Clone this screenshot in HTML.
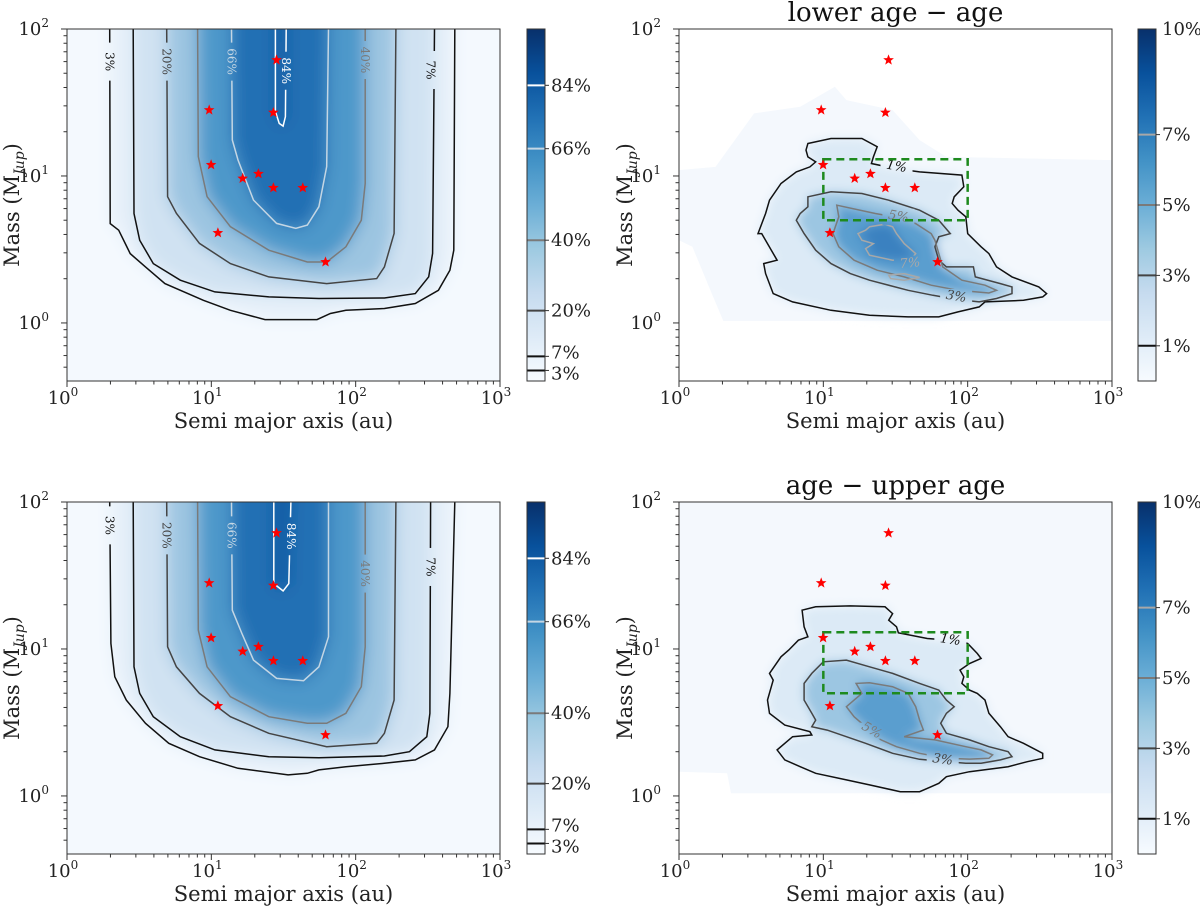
<!DOCTYPE html>
<html><head><meta charset="utf-8">
<style>
html,body{margin:0;padding:0;background:#fff;}
svg{display:block;font-family:"DejaVu Serif","Liberation Serif",serif;}
</style></head>
<body>
<svg id="chart" width="1200" height="909" viewBox="0 0 1200 909" xmlns="http://www.w3.org/2000/svg">
<defs>
<filter id="blurL" x="-0.2" y="-0.2" width="1.4" height="1.4"><feGaussianBlur stdDeviation="8"/></filter>
<filter id="blurR" x="-0.2" y="-0.2" width="1.4" height="1.4"><feGaussianBlur stdDeviation="5"/></filter>
<linearGradient id="blues" x1="0" y1="1" x2="0" y2="0">
<stop offset="0" stop-color="#f7fbff"/><stop offset="0.125" stop-color="#deebf7"/><stop offset="0.25" stop-color="#c6dbef"/><stop offset="0.375" stop-color="#9ecae1"/><stop offset="0.5" stop-color="#6baed6"/><stop offset="0.625" stop-color="#4292c6"/><stop offset="0.75" stop-color="#2171b5"/><stop offset="0.875" stop-color="#08519c"/><stop offset="1" stop-color="#08306b"/>
</linearGradient>
</defs>
</svg>
<script>
// ---- data (log10 semi-major axis [au], log10 mass [MJup]) ----
const starA = [28.3, 9.66, 26.9, 9.96, 16.5, 21.2, 26.9, 43.0, 11.1, 61.8];
const starM = [61.5, 28.1, 27.0, 11.9, 9.62, 10.35, 8.3, 8.3, 4.1, 2.6];
const boxA = [10, 100];
const boxM = [5, 13];
const xTickExp = [0, 1, 2, 3];
const yTickExp = [0, 1, 2];
const leftLevels = [3, 7, 20, 40, 66, 84];
const leftLevelLabels = ["3%", "7%", "20%", "40%", "66%", "84%"];
const rightLevels = [1, 3, 5, 7];
const rightLevelLabels = ["1%", "3%", "5%", "7%"];
const leftMax = 100;
const rightMax = 10;

const TL_C3 = [[0.296,2],[0.299,0.676],[0.358,0.631],[0.438,0.472],[0.544,0.381],[0.678,0.268],[0.945,0.154],[1.132,0.086],[1.372,0.023],[1.732,0.023],[1.825,0.064],[1.932,0.086],[2.199,0.098],[2.413,0.132],[2.573,0.222],[2.653,0.359],[2.680,0.495],[2.687,2]];
const TL_C7 = [[0.459,2],[0.464,0.745],[0.504,0.563],[0.598,0.404],[0.785,0.291],[1.025,0.211],[1.398,0.177],[1.745,0.166],[2.199,0.170],[2.413,0.200],[2.506,0.314],[2.533,0.473],[2.546,2]];
const TL_C20 = [[0.691,2],[0.697,0.859],[0.758,0.746],[0.918,0.541],[1.132,0.404],[1.398,0.313],[1.799,0.268],[2.146,0.302],[2.199,0.381],[2.266,0.609],[2.279,2]];
const TL_C40 = [[0.905,2],[0.910,1.132],[0.971,0.859],[1.132,0.655],[1.398,0.495],[1.665,0.415],[1.799,0.415],[1.932,0.518],[2.039,0.699],[2.066,0.949],[2.066,2]];
const TL_C66 = [[1.140,2],[1.145,1.245],[1.185,1.109],[1.292,0.836],[1.452,0.677],[1.585,0.643],[1.665,0.666],[1.745,0.791],[1.799,1.064],[1.812,2]];
const TL_C84 = [[1.444,2],[1.444,1.44],[1.470,1.358],[1.497,1.339],[1.513,1.403],[1.519,2]];
const TL_LAB = [[0.296,1.778],[0.691,1.778],[2.066,1.789],[1.140,1.778],[1.519,1.716],[2.519,1.721]];

const BL_C3 = [[0.296,2],[0.304,1.037],[0.331,0.811],[0.411,0.652],[0.544,0.494],[0.705,0.358],[0.918,0.267],[1.185,0.188],[1.532,0.143],[1.665,0.154],[1.745,0.177],[1.932,0.199],[2.199,0.222],[2.413,0.245],[2.546,0.313],[2.639,0.471],[2.653,0.698],[2.687,2]];
const BL_C7 = [[0.459,2],[0.464,0.879],[0.504,0.698],[0.598,0.539],[0.785,0.403],[1.025,0.313],[1.398,0.267],[1.745,0.260],[2.199,0.272],[2.372,0.301],[2.493,0.403],[2.514,0.562],[2.519,2]];
const BL_C20 = [[0.691,2],[0.697,1.015],[0.758,0.879],[0.918,0.698],[1.132,0.539],[1.398,0.426],[1.799,0.335],[2.146,0.358],[2.199,0.426],[2.266,0.652],[2.279,2]];
const BL_C40 = [[0.905,2],[0.910,1.128],[0.971,0.879],[1.132,0.675],[1.398,0.539],[1.665,0.494],[1.799,0.494],[1.932,0.562],[2.039,0.743],[2.066,1.015],[2.066,2]];
const BL_C66 = [[1.140,2],[1.145,1.264],[1.212,1.105],[1.292,0.924],[1.452,0.800],[1.639,0.784],[1.745,0.879],[1.812,1.083],[1.812,2]];
const BL_C84 = [[1.433,2],[1.433,1.445],[1.497,1.395],[1.537,1.445],[1.551,2]];
const BL_LAB = [[0.296,1.841],[0.691,1.773],[2.066,1.513],[1.140,1.773],[1.551,1.767],[2.519,1.558]];

const TR_REGION = [[0,1.040],[0.253,1.062],[0.52,1.426],[0.84,1.471],[1.08,1.607],[1.16,1.516],[1.48,1.448],[1.667,1.244],[1.853,1.130],[3,1.108],[3,0.014],[0.307,0.014],[0.227,0.2],[0.093,0.518],[0,0.563]];
const TR_C1 = [[0.893,1.221],[1.053,1.255],[1.267,1.255],[1.373,1.199],[1.347,1.130],[1.333,1.085],[1.5,1.05],[1.667,1.028],[1.96,1.006],[1.973,0.926],[1.907,0.858],[1.893,0.813],[1.933,0.767],[1.987,0.722],[2.0,0.608],[2.093,0.518],[2.147,0.472],[2.2,0.381],[2.307,0.313],[2.493,0.245],[2.547,0.2],[2.52,0.177],[2.387,0.154],[2.12,0.143],[2.08,0.109],[1.933,0.075],[1.8,0.041],[1.587,0.041],[1.32,0.052],[1.053,0.086],[0.787,0.143],[0.653,0.2],[0.6,0.336],[0.587,0.404],[0.68,0.427],[0.573,0.608],[0.547,0.608],[0.6,0.745],[0.627,0.835],[0.707,0.949],[0.813,1.028],[0.907,1.062],[0.947,1.096],[0.893,1.130],[0.88,1.176]];
const TR_C3 = [[1.76,0.188],[1.587,0.222],[1.32,0.291],[1.187,0.336],[1.053,0.404],[0.947,0.495],[0.867,0.608],[0.813,0.699],[0.84,0.745],[0.893,0.790],[0.893,0.858],[1.053,0.892],[1.267,0.881],[1.453,0.835],[1.667,0.767],[1.8,0.699],[1.88,0.608],[1.8,0.586],[1.773,0.518],[1.8,0.427],[1.853,0.381],[2.04,0.381],[2.053,0.313],[2.227,0.268],[2.307,0.245],[2.307,0.2],[2.2,0.166],[2.08,0.143],[1.92,0.16]];
const TR_C5 = [[1.36,0.745],[1.093,0.801],[1.107,0.722],[1.067,0.608],[1.107,0.518],[1.213,0.427],[1.373,0.359],[1.56,0.313],[1.747,0.257],[1.933,0.222],[2.147,0.204],[2.2,0.222],[2.12,0.257],[1.96,0.291],[1.827,0.381],[1.8,0.472],[1.773,0.563],[1.747,0.608],[1.64,0.676],[1.5,0.72]];
const TR_C7 = [[1.32,0.654],[1.427,0.672],[1.48,0.654],[1.507,0.608],[1.56,0.540],[1.64,0.472],[1.613,0.438],[1.55,0.43],[1.48,0.427],[1.32,0.461],[1.293,0.506],[1.347,0.540],[1.267,0.563],[1.24,0.608],[1.293,0.631]];
const TR_C7B = [[1.453,0.325],[1.56,0.336],[1.667,0.309],[1.56,0.291],[1.467,0.302]];
const TR_LAB = [[1.507,1.062],[1.92,0.177],[1.52,0.722],[1.6,0.404]];

const BR_REGION = [[0,2],[3,2],[3,0.018],[0.36,0.018],[0.333,0.154],[0,0.165]];
const BR_C1 = [[2.0,1.037],[2.067,0.969],[2.093,0.935],[2.013,0.901],[1.947,0.856],[1.973,0.811],[1.96,0.766],[2.013,0.720],[2.067,0.698],[2.12,0.652],[2.147,0.562],[2.227,0.471],[2.28,0.403],[2.387,0.358],[2.52,0.290],[2.52,0.256],[2.413,0.233],[2.28,0.199],[2.013,0.165],[1.853,0.131],[1.8,0.086],[1.747,0.063],[1.667,0.029],[1.533,0.029],[1.32,0.075],[1.16,0.109],[0.947,0.154],[0.84,0.199],[0.733,0.245],[0.68,0.313],[0.787,0.403],[0.92,0.415],[0.907,0.437],[0.733,0.482],[0.627,0.562],[0.613,0.652],[0.653,0.788],[0.627,0.834],[0.707,0.947],[0.76,0.992],[0.827,1.060],[0.893,1.083],[0.867,1.151],[0.853,1.264],[0.947,1.287],[1.187,1.293],[1.427,1.287],[1.48,1.241],[1.453,1.196],[1.507,1.151],[1.52,1.110],[1.72,1.071],[1.88,1.06]];
const BR_C3 = [[1.667,0.249],[1.48,0.290],[1.293,0.358],[1.16,0.403],[1.027,0.448],[0.92,0.471],[0.947,0.516],[0.92,0.562],[0.867,0.652],[0.867,0.766],[0.92,0.834],[1.0,0.913],[1.16,0.924],[1.32,0.879],[1.48,0.834],[1.667,0.766],[1.8,0.720],[1.853,0.652],[1.907,0.607],[1.853,0.562],[1.813,0.494],[1.853,0.426],[2.013,0.381],[2.147,0.335],[2.28,0.301],[2.307,0.267],[2.227,0.245],[2.093,0.222],[1.987,0.222],[1.83,0.235]];
const BR_C5 = [[1.293,0.471],[1.213,0.539],[1.16,0.607],[1.213,0.652],[1.267,0.698],[1.227,0.766],[1.32,0.770],[1.48,0.743],[1.587,0.698],[1.64,0.607],[1.667,0.516],[1.693,0.449],[1.56,0.403],[1.667,0.392],[1.773,0.381],[1.987,0.335],[2.093,0.313],[2.173,0.279],[2.147,0.256],[2.013,0.251],[1.853,0.256],[1.667,0.290],[1.507,0.335],[1.4,0.381],[1.34,0.43]];
const BR_C7 = [[1.747,0.290],[1.8,0.279],[1.853,0.286],[1.8,0.297]];
const BR_LAB = [[1.88,1.060],[1.827,0.245],[1.333,0.444]];

// ---- rendering ----
const NS = 'http://www.w3.org/2000/svg';
const svg = document.getElementById('chart');
const W = 433, H = 352, YMIN = -0.395;
function mk(tag, parent) { const e = document.createElementNS(NS, tag); parent.appendChild(e); return e; }
function X(p, la) { return p.x0 + la / 3 * W; }
function Y(p, lm) { return p.y0 + (2 - lm) / (2 - YMIN) * H; }
function d(p, pts, close) { return 'M' + pts.map(q => X(p, q[0]).toFixed(1) + ',' + Y(p, q[1]).toFixed(1)).join('L') + (close ? 'Z' : ''); }

const panels = [
  {id:'tl', x0:67, y0:29, kind:'left', cb:527, title:null, ylabX:19,
   cont:[TL_C3,TL_C7,TL_C20,TL_C40,TL_C66,TL_C84], lab:TL_LAB},
  {id:'tr', x0:679, y0:29, kind:'right', cb:1138, title:'lower age \u2212 age', ylabX:632,
   region:TR_REGION, cont:[TR_C1,TR_C3,TR_C5,TR_C7], extra:[TR_C7B], lab:TR_LAB},
  {id:'bl', x0:67, y0:502, kind:'left', cb:527, title:null, ylabX:19,
   cont:[BL_C3,BL_C7,BL_C20,BL_C40,BL_C66,BL_C84], lab:BL_LAB},
  {id:'br', x0:679, y0:502, kind:'right', cb:1138, title:'age \u2212 upper age', ylabX:632,
   region:BR_REGION, cont:[BR_C1,BR_C3,BR_C5,BR_C7], extra:[], lab:BR_LAB}
];
const leftFill = ['#e6f0f9','#d0e2f2','#9cc5e1','#4d98ca','#2470b4','#0f5aa3'];
const leftLine = ['#111','#111','#444','#7a7a7a','#c4d6e4','#ffffff'];
const rightFill = ['#dceaf6','#9cc6e2','#5a9ecf','#3b81c0'];
const rightLine = ['#111','#444','#7a7a7a','#a8a8a8'];
const rightLabRot = {tr:[10,10,10,-5], br:[8,8,30]};
const rightLabIdx = {tr:[0,1,2,3], br:[0,1,2]};

panels.forEach(p => {
  const defs = svg.querySelector('defs');
  const clip = mk('clipPath', defs); clip.setAttribute('id', 'clip-' + p.id);
  const cr = mk('rect', clip);
  cr.setAttribute('x', p.x0); cr.setAttribute('y', p.y0); cr.setAttribute('width', W); cr.setAttribute('height', H);

  const g = mk('g', svg);
  
  

  const heat = mk('g', g);
  heat.setAttribute('clip-path', 'url(#clip-' + p.id + ')');
  
  
  const isLeft = p.kind === 'left';
  const levels = isLeft ? leftLevels : rightLevels;
  const lineCol = isLeft ? leftLine : rightLine;

  if (isLeft) {
    const bg = mk('g', heat); bg.setAttribute('filter', 'url(#blurL)');
    const r = mk('rect', bg);
    r.setAttribute('x', p.x0 - 40); r.setAttribute('y', p.y0 - 40); r.setAttribute('width', W + 80); r.setAttribute('height', H + 80); r.setAttribute('fill', '#f4f9fe');
    p.cont.forEach((c, i) => {
      const pts = c.concat([[c[c.length-1][0], 2.6], [c[0][0], 2.6]]);
      const f = mk('path', bg);
      f.setAttribute('d', d(p, pts, true)); f.setAttribute('fill', leftFill[i]);
    });
  } else {
    const bgw = mk('rect', heat);
    bgw.setAttribute('x', p.x0); bgw.setAttribute('y', p.y0); bgw.setAttribute('width', W); bgw.setAttribute('height', H); bgw.setAttribute('fill', '#ffffff');
    const reg = mk('path', heat);
    reg.setAttribute('d', d(p, p.region, true)); reg.setAttribute('fill', '#f4f8fd');
    
    
    const bg = mk('g', heat); bg.setAttribute('filter', 'url(#blurR)');
    p.cont.forEach((c, i) => {
      const f = mk('path', bg);
      f.setAttribute('d', d(p, c, true)); f.setAttribute('fill', rightFill[i]);
    });
  }

  const mask = mk('mask', defs); mask.setAttribute('id', 'mask-' + p.id);
  mask.setAttribute('maskUnits', 'userSpaceOnUse');
  mask.setAttribute('x', 0); mask.setAttribute('y', 0); mask.setAttribute('width', 1200); mask.setAttribute('height', 909);
  const mw = mk('rect', mask);
  mw.setAttribute('x', 0); mw.setAttribute('y', 0); mw.setAttribute('width', 1200); mw.setAttribute('height', 909); mw.setAttribute('fill', '#fff');
  p.lab.forEach(l => {
    const mr = mk('rect', mask);
    const cx = X(p, l[0]), cy = Y(p, l[1]);
    if (isLeft) { mr.setAttribute('x', cx - 7); mr.setAttribute('y', cy - 19); mr.setAttribute('width', 14); mr.setAttribute('height', 38); }
    else { mr.setAttribute('x', cx - 16); mr.setAttribute('y', cy - 8); mr.setAttribute('width', 32); mr.setAttribute('height', 16); }
    mr.setAttribute('fill', '#000');
  });

  const cg = mk('g', heat);
  cg.setAttribute('mask', 'url(#mask-' + p.id + ')');
  
  
  p.cont.forEach((c, i) => {
    const ln = mk('path', cg);
    ln.setAttribute('d', d(p, c, !isLeft));
    ln.setAttribute('fill', 'none'); ln.setAttribute('stroke', lineCol[i]); ln.setAttribute('stroke-width', '1.5');
    
    
  });
  (p.extra || []).forEach(c => {
    const ln = mk('path', cg);
    ln.setAttribute('d', d(p, c, true));
    ln.setAttribute('fill', 'none'); ln.setAttribute('stroke', rightLine[3]); ln.setAttribute('stroke-width', '1.5');
    
    
  });
  p.lab.forEach((l, k) => {
    const t = mk('text', heat);
    const cx = X(p, l[0]), cy = Y(p, l[1]);
    let idx, rot;
    if (isLeft) {
      const order = [0, 2, 3, 4, 5, 1];
      idx = order[k]; rot = 90;
    } else { idx = rightLabIdx[p.id][k]; rot = rightLabRot[p.id][k]; }
    t.setAttribute('x', cx); t.setAttribute('y', cy);
    t.setAttribute('text-anchor', 'middle'); t.setAttribute('dominant-baseline', 'central');
    t.setAttribute('font-size', isLeft ? '12' : '13');
    if (!isLeft) t.setAttribute('font-style', 'italic');
    t.setAttribute('fill', lineCol[idx]);
    t.setAttribute('transform', 'rotate(' + rot + ' ' + cx + ' ' + cy + ')');
    t.textContent = isLeft ? leftLevelLabels[idx] : rightLevelLabels[idx];
    
    
  });

  if (!isLeft) {
    const b = mk('rect', heat);
    const bx0 = X(p, Math.log10(boxA[0])), bx1 = X(p, Math.log10(boxA[1]));
    const by0 = Y(p, Math.log10(boxM[1])), by1 = Y(p, Math.log10(boxM[0]));
    b.setAttribute('x', bx0); b.setAttribute('y', by0); b.setAttribute('width', bx1 - bx0); b.setAttribute('height', by1 - by0);
    b.setAttribute('fill', 'none'); b.setAttribute('stroke', '#1e8a1e'); b.setAttribute('stroke-width', '2.5'); b.setAttribute('stroke-dasharray', '8,5');
    
    
  }

  starA.forEach((a, i) => {
    const cx = X(p, Math.log10(a)), cy = Y(p, Math.log10(starM[i]));
    let pts = [];
    for (let j = 0; j < 10; j++) {
      const r = j % 2 ? 2.4 : 5.6, ang = -Math.PI / 2 + j * Math.PI / 5;
      pts.push((cx + r * Math.cos(ang)).toFixed(1) + ',' + (cy + r * Math.sin(ang)).toFixed(1));
    }
    const s = mk('polygon', heat);
    s.setAttribute('points', pts.join(' ')); s.setAttribute('fill', '#ff0000');
    
    
  });

  const fr = mk('rect', g);
  fr.setAttribute('x', p.x0); fr.setAttribute('y', p.y0); fr.setAttribute('width', W); fr.setAttribute('height', H);
  fr.setAttribute('fill', 'none'); fr.setAttribute('stroke', '#333'); fr.setAttribute('stroke-width', '1');
  
  

  const xa = mk('g', g);
  
  
  const yb = p.y0 + H;
  xTickExp.forEach(e => {
    const x = X(p, e);
    const tk = mk('line', xa);
    tk.setAttribute('x1', x); tk.setAttribute('x2', x); tk.setAttribute('y1', yb); tk.setAttribute('y2', yb + 6); tk.setAttribute('stroke', '#333');
    const t = mk('text', xa);
    t.setAttribute('x', x - 4); t.setAttribute('y', yb + 23); t.setAttribute('text-anchor', 'middle'); t.setAttribute('font-size', '18'); t.setAttribute('fill', '#222');
    t.textContent = '10';
    const sp = mk('tspan', t); sp.setAttribute('dy', '-8'); sp.setAttribute('font-size', '12'); sp.textContent = String(e);
    
    
    if (e < 3) for (let m = 2; m < 10; m++) {
      const xm = X(p, e + Math.log10(m));
      const mt = mk('line', xa);
      mt.setAttribute('x1', xm); mt.setAttribute('x2', xm); mt.setAttribute('y1', yb); mt.setAttribute('y2', yb + 3.5); mt.setAttribute('stroke', '#333');
    }
  });
  const xl = mk('text', g);
  xl.setAttribute('x', p.x0 + W / 2); xl.setAttribute('y', yb + 47); xl.setAttribute('text-anchor', 'middle'); xl.setAttribute('font-size', '21'); xl.setAttribute('fill', '#222');
  xl.textContent = 'Semi major axis (au)';
  
  

  const ya = mk('g', g);
  
  
  yTickExp.forEach(e => {
    const y = Y(p, e);
    const tk = mk('line', ya);
    tk.setAttribute('x1', p.x0 - 6); tk.setAttribute('x2', p.x0); tk.setAttribute('y1', y); tk.setAttribute('y2', y); tk.setAttribute('stroke', '#333');
    const t = mk('text', ya);
    t.setAttribute('x', p.x0 - 18); t.setAttribute('y', y + 6); t.setAttribute('text-anchor', 'end'); t.setAttribute('font-size', '18'); t.setAttribute('fill', '#222');
    t.textContent = '10';
    const sp = mk('tspan', t); sp.setAttribute('dy', '-8'); sp.setAttribute('font-size', '12'); sp.textContent = String(e);
    
    
  });
  for (let e = -1; e < 2; e++) for (let m = 2; m < 10; m++) {
    const lv = e + Math.log10(m);
    if (lv < YMIN) continue;
    const y = Y(p, lv);
    const mt = mk('line', ya);
    mt.setAttribute('x1', p.x0 - 3.5); mt.setAttribute('x2', p.x0); mt.setAttribute('y1', y); mt.setAttribute('y2', y); mt.setAttribute('stroke', '#333');
  }
  const yl = mk('text', g);
  const ycy = p.y0 + H / 2;
  yl.setAttribute('x', p.ylabX); yl.setAttribute('y', ycy); yl.setAttribute('text-anchor', 'middle'); yl.setAttribute('font-size', '21'); yl.setAttribute('fill', '#222');
  yl.setAttribute('transform', 'rotate(-90 ' + p.ylabX + ' ' + ycy + ')');
  yl.textContent = 'Mass (M';
  const sub = mk('tspan', yl); sub.setAttribute('dy', '5'); sub.setAttribute('font-size', '14'); sub.setAttribute('font-style', 'italic'); sub.textContent = 'Jup';
  const cl = mk('tspan', yl); cl.setAttribute('dy', '-5'); cl.textContent = ')';
  
  

  if (p.title) {
    const tt = mk('text', g);
    tt.setAttribute('x', p.x0 + W / 2); tt.setAttribute('y', p.y0 - 8); tt.setAttribute('text-anchor', 'middle'); tt.setAttribute('font-size', '26'); tt.setAttribute('fill', '#111');
    tt.textContent = p.title;
    
    
  }

  const cb = mk('g', g);
  
  
  const cw = 18;
  const cbr = mk('rect', cb);
  cbr.setAttribute('x', p.cb); cbr.setAttribute('y', p.y0); cbr.setAttribute('width', cw); cbr.setAttribute('height', H); cbr.setAttribute('fill', 'url(#blues)');
  const mx = isLeft ? leftMax : rightMax;
  const labs = isLeft ? leftLevelLabels : rightLevelLabels;
  levels.forEach((v, i) => {
    const y = p.y0 + H - v / mx * H;
    const l = mk('line', cb);
    l.setAttribute('x1', p.cb); l.setAttribute('x2', p.cb + cw); l.setAttribute('y1', y); l.setAttribute('y2', y);
    l.setAttribute('stroke', lineCol[i]); l.setAttribute('stroke-width', '2');
    const tk = mk('line', cb);
    tk.setAttribute('x1', p.cb + cw); tk.setAttribute('x2', p.cb + cw + 4); tk.setAttribute('y1', y); tk.setAttribute('y2', y); tk.setAttribute('stroke', '#333');
    const t = mk('text', cb);
    let ty = y + 6;
    if (isLeft && v === 7) ty = y + 2;
    if (isLeft && v === 3) ty = y + 9;
    t.setAttribute('x', p.cb + cw + 6); t.setAttribute('y', ty); t.setAttribute('font-size', '18'); t.setAttribute('fill', '#222');
    t.textContent = labs[i];
    
    
  });
  if (!isLeft) {
    const t = mk('text', cb);
    t.setAttribute('x', p.cb + cw + 6); t.setAttribute('y', p.y0 + 6); t.setAttribute('font-size', '18'); t.setAttribute('fill', '#222');
    t.textContent = '10%';
    
    
  }
  const cbf = mk('rect', cb);
  cbf.setAttribute('x', p.cb); cbf.setAttribute('y', p.y0); cbf.setAttribute('width', cw); cbf.setAttribute('height', H);
  cbf.setAttribute('fill', 'none'); cbf.setAttribute('stroke', '#333');
});
</script>
</body></html>
